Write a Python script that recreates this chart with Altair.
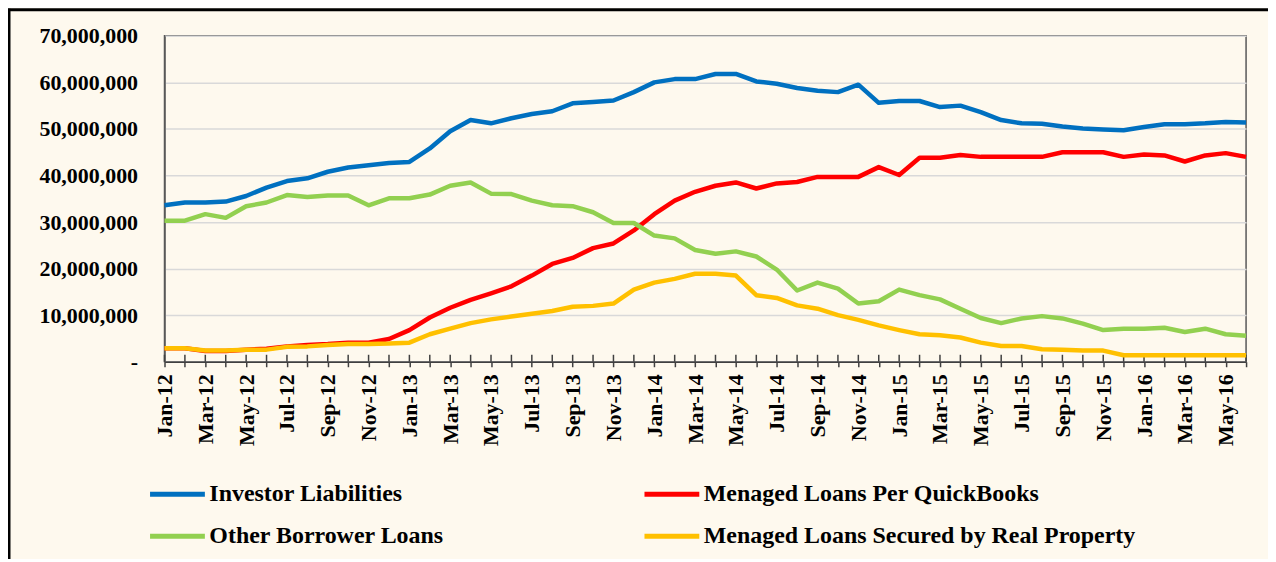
import altair as alt
import pandas as pd

months = [
    "Jan-12", "Feb-12", "Mar-12", "Apr-12", "May-12", "Jun-12", "Jul-12", "Aug-12", "Sep-12", "Oct-12", "Nov-12", "Dec-12",
    "Jan-13", "Feb-13", "Mar-13", "Apr-13", "May-13", "Jun-13", "Jul-13", "Aug-13", "Sep-13", "Oct-13", "Nov-13", "Dec-13",
    "Jan-14", "Feb-14", "Mar-14", "Apr-14", "May-14", "Jun-14", "Jul-14", "Aug-14", "Sep-14", "Oct-14", "Nov-14", "Dec-14",
    "Jan-15", "Feb-15", "Mar-15", "Apr-15", "May-15", "Jun-15", "Jul-15", "Aug-15", "Sep-15", "Oct-15", "Nov-15", "Dec-15",
    "Jan-16", "Feb-16", "Mar-16", "Apr-16", "May-16", "Jun-16",
]
labelled_months = ["Jan", "Mar", "May", "Jul", "Sep", "Nov"]

# values in millions
investor_liabilities = [
    33.6, 34.2, 34.2, 34.4, 35.6, 37.4, 38.8, 39.4, 40.8, 41.7, 42.2, 42.7,
    42.9, 45.8, 49.5, 51.9, 51.2, 52.3, 53.2, 53.8, 55.5, 55.8, 56.1, 57.9,
    60.0, 60.7, 60.7, 61.8, 61.8, 60.2, 59.7, 58.8, 58.2, 57.9, 59.5, 55.6,
    56.0, 56.0, 54.7, 55.0, 53.6, 51.9, 51.2, 51.1, 50.5, 50.1, 49.9, 49.7,
    50.4, 51.0, 51.0, 51.2, 51.5, 51.4,
]
menaged_loans_qb = [
    2.9, 2.9, 2.3, 2.3, 2.6, 2.8, 3.3, 3.6, 3.8, 4.1, 4.1, 4.9,
    6.8, 9.5, 11.6, 13.3, 14.7, 16.2, 18.5, 21.0, 22.3, 24.4, 25.4, 28.2,
    31.7, 34.6, 36.5, 37.8, 38.5, 37.2, 38.3, 38.6, 39.7, 39.7, 39.7, 41.8,
    40.1, 43.8, 43.8, 44.4, 44.0, 44.0, 44.0, 44.0, 45.0, 45.0, 45.0, 44.0,
    44.5, 44.3, 43.0, 44.3, 44.8, 44.0,
]
other_borrower_loans = [
    30.3, 30.3, 31.7, 30.9, 33.4, 34.2, 35.8, 35.4, 35.7, 35.7, 33.6, 35.1,
    35.1, 35.9, 37.8, 38.5, 36.1, 36.0, 34.6, 33.6, 33.4, 32.1, 29.8, 29.8,
    27.1, 26.5, 24.0, 23.2, 23.7, 22.6, 19.8, 15.3, 17.0, 15.7, 12.5, 13.0,
    15.5, 14.3, 13.4, 11.4, 9.4, 8.3, 9.3, 9.8, 9.3, 8.2, 6.8, 7.1,
    7.1, 7.3, 6.4, 7.1, 5.9, 5.6,
]
menaged_loans_secured = [
    2.9, 2.9, 2.4, 2.4, 2.6, 2.6, 3.2, 3.3, 3.6, 3.8, 3.8, 3.9,
    4.1, 5.9, 7.1, 8.3, 9.1, 9.7, 10.3, 10.9, 11.8, 12.0, 12.5, 15.5,
    17.0, 17.8, 18.9, 18.9, 18.5, 14.3, 13.7, 12.1, 11.4, 10.0, 9.0, 7.8,
    6.8, 5.9, 5.7, 5.2, 4.1, 3.4, 3.4, 2.7, 2.6, 2.4, 2.4, 1.4,
    1.4, 1.4, 1.4, 1.4, 1.4, 1.4,
]

series_names = [
    "Investor Liabilities",
    "Menaged Loans Per QuickBooks",
    "Other Borrower Loans",
    "Menaged Loans Secured by Real Property",
]
series_values = [investor_liabilities, menaged_loans_qb, other_borrower_loans, menaged_loans_secured]
series_colors = ["#0070C0", "#FF0000", "#92D050", "#FFC000"]
y_ticks = [0, 10_000_000, 20_000_000, 30_000_000, 40_000_000, 50_000_000, 60_000_000, 70_000_000]

rows = []
for name, vals in zip(series_names, series_values):
    for order, (m, v) in enumerate(zip(months, vals)):
        rows.append({"month": m, "series": name, "value": v * 1_000_000, "order": order})
df = pd.DataFrame(rows)
ticks_df = pd.DataFrame({"month": months})

FONT = "Liberation Serif"
W, H = 1085, 327

label_test = " || ".join([f"indexof(datum.value, '{m}') == 0" for m in labelled_months])

x_enc = alt.X(
    "month:O",
    sort=months,
    scale=alt.Scale(type="point", padding=0),
    axis=alt.Axis(
        title=None,
        labelAngle=270,
        labelAlign="right",
        labelBaseline="middle",
        labelFont=FONT,
        labelFontWeight="bold",
        labelFontSize=22,
        labelColor="#000000",
        labelPadding=7,
        labelOverlap=False,
        labelExpr=f"({label_test}) ? datum.value : ''",
        tickSize=5,
        tickColor="#404040",
        tickWidth=1.5,
        domainColor="#404040",
        domainWidth=1.5,
        grid=False,
    ),
)

lines = alt.Chart(df).mark_line(strokeWidth=4.5, strokeJoin="round", clip=False).encode(
    x=x_enc,
    y=alt.Y(
        "value:Q",
        scale=alt.Scale(domain=[0, 70_000_000], nice=False),
        axis=alt.Axis(
            title=None,
            values=y_ticks,
            labelExpr="datum.value == 0 ? '-' : format(datum.value, ',')",
            labelFont=FONT,
            labelFontWeight="bold",
            labelFontSize=22,
            labelColor="#000000",
            labelPadding=27,
            ticks=False,
            domainColor="#595959",
            domainWidth=1.5,
            gridColor="#D9D9D9",
            gridWidth=1.5,
        ),
    ),
    color=alt.Color(
        "series:N",
        scale=alt.Scale(domain=series_names, range=series_colors),
        legend=alt.Legend(
            title=None,
            orient="none",
            direction="horizontal",
            legendX=-17,
            legendY=430,
            columns=2,
            gridAlign="each",
            columnPadding=190,
            rowPadding=-12,
            symbolType="stroke",
            symbolSize=3025,
            symbolStrokeWidth=5,
            labelFont=FONT,
            labelFontWeight="bold",
            labelFontSize=24,
            labelColor="#000000",
            labelOffset=2,
            labelLimit=600,
        ),
    ),
    order="order:Q",
)

inner_ticks = alt.Chart(ticks_df).mark_rule(color="#404040", strokeWidth=1.5).encode(
    x=alt.X("month:O", sort=months, scale=alt.Scale(type="point", padding=0)),
    y=alt.value(H - 7),
    y2=alt.value(H),
)

frame_top = alt.Chart(ticks_df.head(1)).mark_rule(color="#000000", strokeWidth=3, clip=False).encode(
    x=alt.value(-157), x2=alt.value(W + 30), y=alt.value(-26)
)
frame_left = alt.Chart(ticks_df.head(1)).mark_rule(color="#000000", strokeWidth=3, clip=False).encode(
    x=alt.value(-156), y=alt.value(-27), y2=alt.value(H + 200)
)

chart = (
    alt.layer(inner_ticks, lines, frame_top, frame_left)
    .properties(
        width=W,
        height=H,
        padding={"left": 157, "top": 27, "right": 22, "bottom": 197},
        autosize=alt.AutoSizeParams(type="none"),
        background="#FEF9EE",
    )
    .configure_view(stroke="#595959", strokeWidth=1.5)
)

chart.save("out.html", embed_options={"renderer": "svg", "actions": False})
